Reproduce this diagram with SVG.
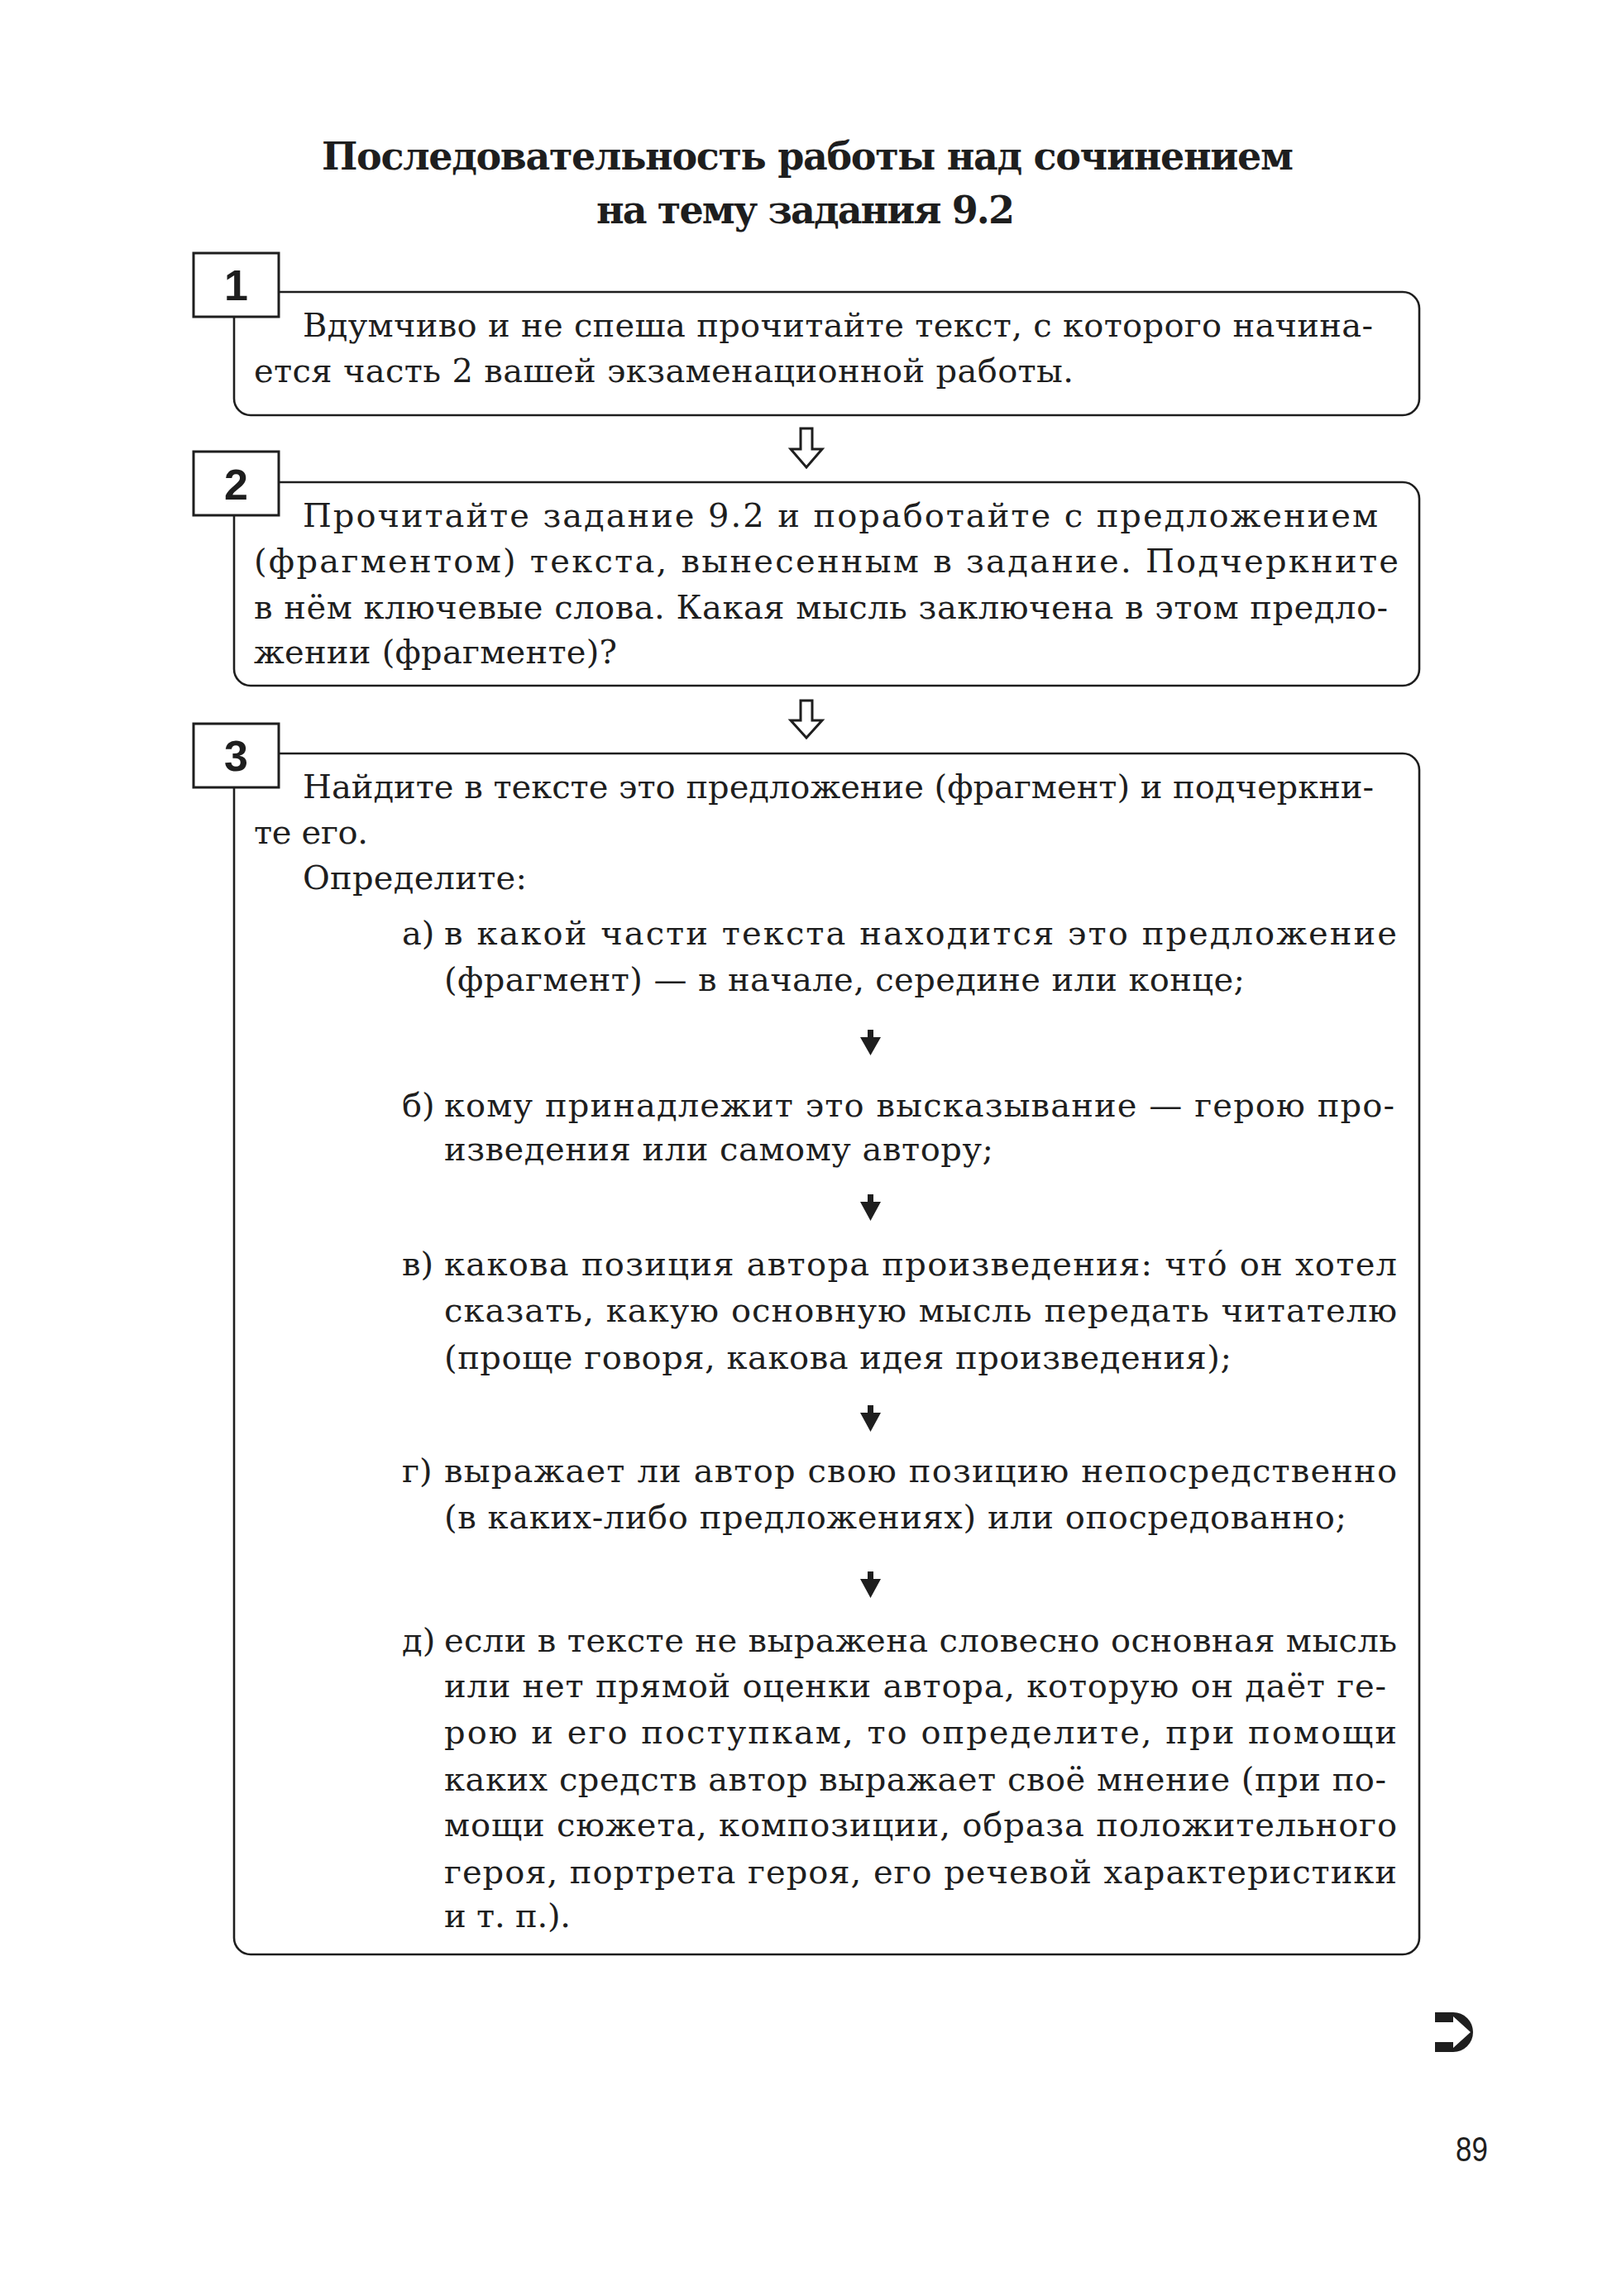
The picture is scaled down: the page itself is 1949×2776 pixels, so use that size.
<svg xmlns="http://www.w3.org/2000/svg" width="1949" height="2776" viewBox="0 0 1949 2776">
<style>
.t{font-family:"DejaVu Serif","Liberation Serif",serif;font-size:40px;fill:#1e1e1e}
.ttl{font-family:"DejaVu Serif","Liberation Serif",serif;font-size:46px;font-weight:bold;fill:#1e1e1e}
.num{font-family:"Liberation Sans",Arial,sans-serif;font-size:52px;font-weight:bold;fill:#1e1e1e;text-anchor:middle}
.box{fill:#fff;stroke:#1e1e1e;stroke-width:2.6}
.nbox{fill:#fff;stroke:#1e1e1e;stroke-width:3}
.oarrow{fill:#fff;stroke:#1e1e1e;stroke-width:3;stroke-linejoin:miter}
.farrow{fill:#1e1e1e;stroke:none}
.pg{font-family:"Liberation Sans",Arial,sans-serif;font-size:42px;fill:#1e1e1e}
</style>
<rect width="1949" height="2776" fill="#fff"/>
<g id="title">
<text class="ttl" x="389" y="205" textLength="1175">Последовательность работы над сочинением</text>
<text class="ttl" x="721" y="270" textLength="506">на тему задания 9.2</text>
</g>
<g id="step1">
<rect class="box" x="283" y="353" width="1433" height="149" rx="20"/>
<rect class="nbox" x="234" y="306" width="103" height="77"/>
<text class="num" x="285.5" y="363">1</text>
<text class="t" x="366" y="407" textLength="1294">Вдумчиво и не спеша прочитайте текст, с которого начина-</text>
<text class="t" x="307" y="462" textLength="991">ется часть 2 вашей экзаменационной работы.</text>
</g>
<g id="step2">
<rect class="box" x="283" y="583" width="1433" height="246" rx="20"/>
<rect class="nbox" x="234" y="546" width="103" height="77"/>
<text class="num" x="285.5" y="604">2</text>
<text class="t" x="366" y="637" textLength="1300">Прочитайте задание 9.2 и поработайте с предложением</text>
<text class="t" x="307" y="692" textLength="1384">(фрагментом) текста, вынесенным в задание. Подчеркните</text>
<text class="t" x="307" y="748" textLength="1371">в нём ключевые слова. Какая мысль заключена в этом предло-</text>
<text class="t" x="307" y="802" textLength="439">жении (фрагменте)?</text>
</g>
<g id="step3">
<rect class="box" x="283" y="911" width="1433" height="1452" rx="20"/>
<rect class="nbox" x="234" y="875" width="103" height="77"/>
<text class="num" x="285.5" y="932">3</text>
<text class="t" x="366" y="965" textLength="1295">Найдите в тексте это предложение (фрагмент) и подчеркни-</text>
<text class="t" x="307" y="1020" textLength="138">те его.</text>
<text class="t" x="366" y="1075" textLength="271">Определите:</text>
<g id="item-a">
<text class="t" x="486" y="1142">а)</text>
<text class="t" x="537" y="1142" textLength="1152">в какой части текста находится это предложение</text>
<text class="t" x="537" y="1198" textLength="968">(фрагмент) — в начале, середине или конце;</text>
</g>
<g id="item-b">
<text class="t" x="486" y="1350">б)</text>
<text class="t" x="537" y="1350" textLength="1149">кому принадлежит это высказывание — герою про-</text>
<text class="t" x="537" y="1403" textLength="664">изведения или самому автору;</text>
</g>
<g id="item-v">
<text class="t" x="486" y="1542">в)</text>
<text class="t" x="537" y="1542" textLength="1152">какова позиция автора произведения: что́ он хотел</text>
<text class="t" x="537" y="1598" textLength="1152">сказать, какую основную мысль передать читателю</text>
<text class="t" x="537" y="1655" textLength="952">(проще говоря, какова идея произведения);</text>
</g>
<g id="item-g">
<text class="t" x="486" y="1792">г)</text>
<text class="t" x="537" y="1792" textLength="1152">выражает ли автор свою позицию непосредственно</text>
<text class="t" x="537" y="1848" textLength="1091">(в каких-либо предложениях) или опосредованно;</text>
</g>
<g id="item-d">
<text class="t" x="486" y="1997">д)</text>
<text class="t" x="537" y="1997" textLength="1152">если в тексте не выражена словесно основная мысль</text>
<text class="t" x="537" y="2052" textLength="1139">или нет прямой оценки автора, которую он даёт ге-</text>
<text class="t" x="537" y="2108" textLength="1152">рою и его поступкам, то определите, при помощи</text>
<text class="t" x="537" y="2165" textLength="1139">каких средств автор выражает своё мнение (при по-</text>
<text class="t" x="537" y="2220" textLength="1152">мощи сюжета, композиции, образа положительного</text>
<text class="t" x="537" y="2277" textLength="1152">героя, портрета героя, его речевой характеристики</text>
<text class="t" x="537" y="2330" textLength="153">и т. п.).</text>
</g>
</g>
<g id="connectors">
<path class="oarrow" d="M968,518 H982 V543 H994 L975,565 L956,543 H968 Z"/>
<path class="oarrow" d="M968,847 H982 V871 H994 L975,892 L956,871 H968 Z"/>
<path class="farrow" d="M1049,1245 H1056 V1254 H1065 L1052.5,1276 L1040,1254 H1049 Z"/>
<path class="farrow" d="M1049,1444 H1056 V1453 H1065 L1052.5,1476 L1040,1453 H1049 Z"/>
<path class="farrow" d="M1049,1699 H1056 V1708 H1065 L1052.5,1731 L1040,1708 H1049 Z"/>
<path class="farrow" d="M1049,1900 H1056 V1909 H1065 L1052.5,1932 L1040,1909 H1049 Z"/>
</g>
<g id="footer">
<path d="M1735,2433 H1757 A24,24 0 0 1 1757,2481 H1735 Z" fill="#1e1e1e"/>
<path d="M1734,2445 H1757 V2438 L1778,2457 L1757,2476 V2469 H1734 Z" fill="#fff"/>
<text class="pg" transform="translate(1760,2613) scale(0.83,1)">89</text>
</g>
</svg>
